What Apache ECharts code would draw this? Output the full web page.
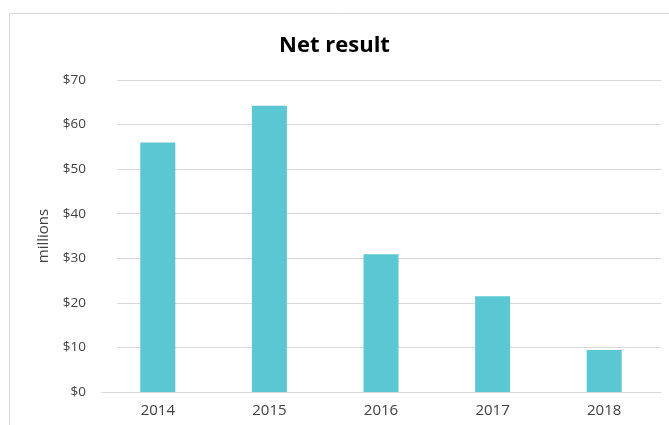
<!DOCTYPE html>
<html>
<head>
<meta charset="utf-8">
<script src="https://cdn.jsdelivr.net/npm/echarts@6/dist/echarts.min.js"></script>
<style>
  html, body { margin: 0; padding: 0; background: #fff; }
  #chart { width: 669px; height: 425px; }
</style>
</head>
<body>
<div id="chart"></div>
<script>
const years = ['2014', '2015', '2016', '2017', '2018'];
const netResult = [56.0, 64.2, 30.9, 21.5, 9.4];
const yTicks = [0, 10, 20, 30, 40, 50, 60, 70];

const font = '"Open Sans", "Noto Sans", sans-serif';
const textColor = '#404040';

const chart = echarts.init(document.getElementById('chart'), null, { renderer: 'canvas' });

const option = {
  backgroundColor: '#fff',
  animation: false,
  textStyle: { fontFamily: font },
  title: {
    text: 'Net result',
    left: 'center',
    top: 30,
    textStyle: { fontFamily: font, fontSize: 22, fontWeight: 'bold', color: '#000' }
  },
  graphic: [{
    type: 'rect',
    shape: { x: 9.5, y: 13.5, width: 800, height: 600 },
    style: { fill: 'none', stroke: '#d9d9d9', lineWidth: 1 },
    silent: true
  }],
  // grid 0 carries the gridlines and y labels, grid 1 the bars
  grid: [
    { left: 117, right: 8, top: 80, bottom: 33 },
    { left: 102, right: 9, top: 80, bottom: 33 }
  ],
  xAxis: [
    { gridIndex: 0, type: 'category', data: years, show: false },
    {
      gridIndex: 1,
      type: 'category',
      data: years,
      axisLine: { lineStyle: { color: '#d9d9d9', width: 1 } },
      axisTick: { show: false },
      axisLabel: { color: textColor, fontSize: 15, fontFamily: font, margin: 11 }
    }
  ],
  yAxis: [
    {
      gridIndex: 0,
      type: 'value',
      min: yTicks[0],
      max: yTicks[yTicks.length - 1],
      interval: 10,
      name: 'millions',
      nameLocation: 'middle',
      nameGap: 66,
      nameTextStyle: { color: textColor, fontSize: 15, fontFamily: font },
      axisLine: { show: false },
      axisTick: { show: false },
      axisLabel: {
        color: textColor, fontSize: 13.5, fontFamily: font, margin: 31,
        formatter: v => '$' + v
      },
      splitLine: { lineStyle: { color: '#d9d9d9', width: 1 } }
    },
    {
      gridIndex: 1,
      type: 'value',
      min: yTicks[0],
      max: yTicks[yTicks.length - 1],
      interval: 10,
      show: false,
      splitLine: { show: false }
    }
  ],
  series: [{
    type: 'bar',
    xAxisIndex: 1,
    yAxisIndex: 1,
    data: netResult,
    barWidth: 35,
    itemStyle: { color: '#5bc7d2' }
  }]
};

chart.setOption(option);
</script>
</body>
</html>
